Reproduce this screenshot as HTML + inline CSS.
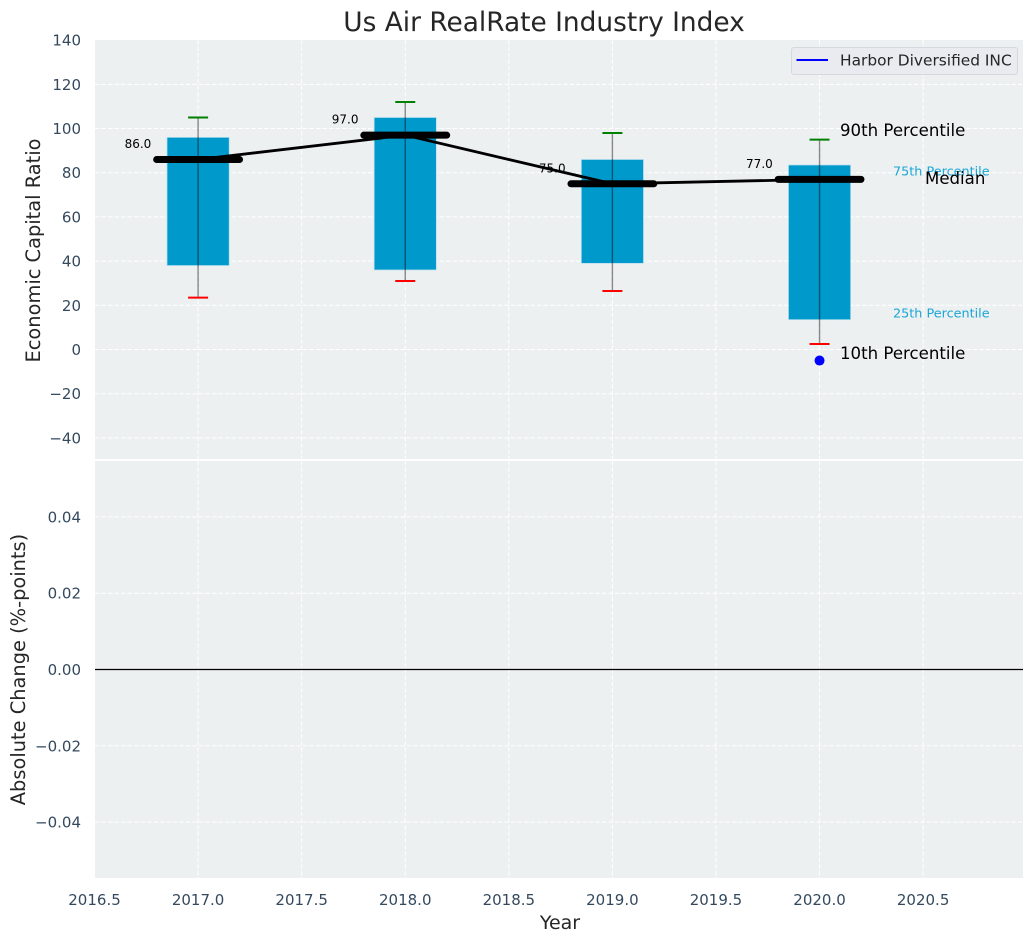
<!DOCTYPE html>
<html>
<head>
<meta charset="utf-8">
<title>Us Air RealRate Industry Index</title>
<style>
html,body{margin:0;padding:0;background:#fff;}
svg{display:block;font-family:"DejaVu Sans","Liberation Sans",sans-serif;}
</style>
</head>
<body>
<svg id="chart" width="1034" height="942" viewBox="0 0 1034 942" xmlns="http://www.w3.org/2000/svg">
  <rect x="95" y="40" width="928" height="419" fill="#ecf0f1"/>
  <rect x="95" y="461" width="928" height="417" fill="#ecf0f1"/>
  <g id="grid"></g>
  <g id="marks"></g>
  <g id="ticks"></g>

  <text x="544" y="31" text-anchor="middle" font-size="26.4" fill="#262626">Us Air RealRate Industry Index</text>
  <text transform="translate(40,250.5) rotate(-90)" text-anchor="middle" font-size="19.4" fill="#262626">Economic Capital Ratio</text>
  <text transform="translate(25,669.5) rotate(-90)" text-anchor="middle" font-size="19.4" fill="#262626">Absolute Change (%-points)</text>
  <text x="560" y="929" text-anchor="middle" font-size="19" fill="#262626">Year</text>

  <text x="840" y="136" font-size="16.6" fill="#000">90th Percentile</text>
  <text x="893" y="175.5" font-size="12.8" fill="#1aa6d6">75th Percentile</text>
  <text x="925" y="184" font-size="16.6" fill="#000">Median</text>
  <text x="893" y="317.5" font-size="12.8" fill="#1aa6d6">25th Percentile</text>
  <text x="840" y="359" font-size="16.6" fill="#000">10th Percentile</text>

  <g>
    <rect x="791.5" y="47.5" width="226" height="27" rx="2.5" fill="#e9ebf1" stroke="#d5d8dc" stroke-width="1"/>
    <line x1="796.5" x2="828" y1="60" y2="60" stroke="#0000ff" stroke-width="2"/>
    <text x="840" y="65.5" font-size="15.4" fill="#262626">Harbor Diversified INC</text>
  </g>
</svg>
<script>
const years = [2017, 2018, 2019, 2020];
const q25 = [38, 36, 39, 13.5];
const q75 = [96, 105, 86, 83.5];
const p10 = [23.5, 31, 26.5, 2.5];
const p90 = [105, 112, 98, 95];
const medians = [86, 97, 75, 77];
const companyYears = [2020];
const companyValues = [-5];
const medianLabels = ["86.0", "97.0", "75.0", "77.0"];
const xTicks = [2016.5, 2017, 2017.5, 2018, 2018.5, 2019, 2019.5, 2020, 2020.5];
const xTickLabels = ["2016.5", "2017.0", "2017.5", "2018.0", "2018.5", "2019.0", "2019.5", "2020.0", "2020.5"];
const yTopTicks = [-40, -20, 0, 20, 40, 60, 80, 100, 120, 140];
const yTopTickLabels = ["\u221240", "\u221220", "0", "20", "40", "60", "80", "100", "120", "140"];
const yBottomTicks = [-0.04, -0.02, 0, 0.02, 0.04];
const yBottomTickLabels = ["\u22120.04", "\u22120.02", "0.00", "0.02", "0.04"];

const NS = 'http://www.w3.org/2000/svg';
const left = 95, right = 1023, topY = 40, topBottom = 459, botTop = 461, botBottom = 878;
function xs(v) { return 198.1 + (v - 2017) * 207.15; }
function yTop(v) { return 349.5 - v * 2.2095; }
function yBot(v) { return 669.5 - v * 3815; }
function mk(tag, attrs, parent, text) {
  const e = document.createElementNS(NS, tag);
  for (const k in attrs) e.setAttribute(k, attrs[k]);
  if (text !== undefined) e.textContent = text;
  parent.appendChild(e);
  return e;
}
const grid = document.getElementById('grid');
const marks = document.getElementById('marks');
const ticks = document.getElementById('ticks');
const gridStyle = { stroke: '#ffffff', 'stroke-width': 1, 'stroke-dasharray': '4.5 2' };

xTicks.forEach(function (t, i) {
  const x = xs(t);
  const g1 = mk('line', Object.assign({ x1: x, x2: x, y1: topY, y2: topBottom }, gridStyle), grid);
  
  
  const g2 = mk('line', Object.assign({ x1: x, x2: x, y1: botTop, y2: botBottom }, gridStyle), grid);
  
  
  const lb = mk('text', { x: x, y: 905, 'text-anchor': 'middle', 'font-size': 15, fill: '#34495e' }, ticks, xTickLabels[i]);
  
  
});
yTopTicks.forEach(function (t, i) {
  const y = yTop(t);
  if (t !== 140) {
    const g = mk('line', Object.assign({ x1: left, x2: right, y1: y, y2: y }, gridStyle), grid);
    
    
  }
  const lb = mk('text', { x: 81, y: y + 5.5, 'text-anchor': 'end', 'font-size': 15, fill: '#34495e' }, ticks, yTopTickLabels[i]);
  
  
});
yBottomTicks.forEach(function (t, i) {
  const y = yBot(t);
  const g = mk('line', Object.assign({ x1: left, x2: right, y1: y, y2: y }, gridStyle), grid);
  
  
  const lb = mk('text', { x: 81, y: y + 5.5, 'text-anchor': 'end', 'font-size': 15, fill: '#34495e' }, ticks, yBottomTickLabels[i]);
  
  
});

const zero = mk('line', { x1: left, x2: right, y1: yBot(0), y2: yBot(0), stroke: '#000', 'stroke-width': 1.3 }, marks);



years.forEach(function (yr, i) {
  const x = xs(yr);
  const bar = mk('rect', {
    x: x - 0.15 * 207.15, width: 0.3 * 207.15,
    y: yTop(q75[i]), height: yTop(q25[i]) - yTop(q75[i]),
    fill: '#0099cc', stroke: '#b9dfee', 'stroke-width': 0.7
  }, marks);
  
  
});

const trend = mk('polyline', {
  points: years.map(function (yr, i) { return xs(yr) + ',' + yTop(medians[i]); }).join(' '),
  fill: 'none', stroke: '#000', 'stroke-width': 2.8
}, marks);



years.forEach(function (yr, i) {
  const x = xs(yr);
  const w = mk('line', { x1: x, x2: x, y1: yTop(p90[i]), y2: yTop(p10[i]), stroke: '#000', 'stroke-opacity': 0.45, 'stroke-width': 1.4 }, marks);
  
  
  const hi = mk('line', { x1: x - 10, x2: x + 10, y1: yTop(p90[i]), y2: yTop(p90[i]), stroke: '#008000', 'stroke-width': 2 }, marks);
  
  
  const lo = mk('line', { x1: x - 10, x2: x + 10, y1: yTop(p10[i]), y2: yTop(p10[i]), stroke: '#ff0000', 'stroke-width': 2 }, marks);
  
  
  const m = mk('line', { x1: x - 0.2 * 207.15, x2: x + 0.2 * 207.15, y1: yTop(medians[i]), y2: yTop(medians[i]), stroke: '#000', 'stroke-width': 7, 'stroke-linecap': 'round' }, marks);
  
  
  const t = mk('text', { x: x - 73.5, y: yTop(medians[i]) - 11.5, 'font-size': 12, fill: '#000' }, marks, medianLabels[i]);
  
  
});

companyYears.forEach(function (yr, i) {
  const c = mk('circle', { cx: xs(yr), cy: yTop(companyValues[i]), r: 5, fill: '#0000ff' }, marks);
  
  
});
</script>
</body>
</html>
